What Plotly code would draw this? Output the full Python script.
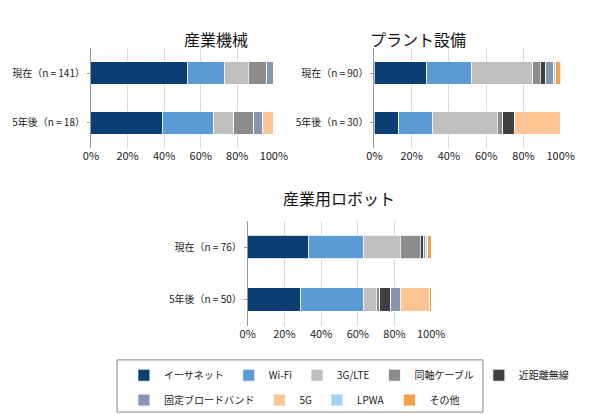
import plotly.graph_objects as go

series = ['イーサネット', 'Wi-Fi', '3G/LTE', '同軸ケーブル', '近距離無線',
          '固定ブロードバンド', '5G', 'LPWA', 'その他']
colors = ['#0b3f73', '#5b9bd5', '#bfbfbf', '#8c8c8c', '#404040',
          '#8496b0', '#fdc593', '#9dd3f5', '#f5a048']

titles = ['産業機械', 'プラント設備', '産業用ロボット']
cats = [['現在（n = 141）', '5年後（n = 18）'],
        ['現在（n = 90）', '5年後（n = 30）'],
        ['現在（n = 76）', '5年後（n = 50）']]

# percent per series, [現在, 5年後]
machine = [[53, 39], [20, 28], [13, 11], [10, 11], [0, 0], [4, 5], [0, 6], [0, 0], [0, 0]]
plant = [[28, 13], [24, 18], [33, 35], [4, 3], [3, 6], [4, 0], [0, 25], [1, 0], [3, 0]]
robot = [[33, 29], [30, 34], [20, 7], [11, 2], [2, 6], [1, 5], [0, 16], [1, 0], [2, 1]]
data = [machine, plant, robot]

xdoms = [(0.132, 0.454), (0.631, 0.959), (0.408, 0.731)]
ydoms = [(0.662, 0.903), (0.662, 0.903), (0.232, 0.486)]
title_y = [0.96, 0.96, 0.54]

fig = go.Figure()
layout = {}
for k in range(3):
  ax = '' if k == 0 else str(k + 1)
  for i, name in enumerate(series):
    fig.add_trace(go.Bar(
      y=cats[k], x=data[k][i], name=name, orientation='h',
      marker=dict(color=colors[i], line=dict(color='white', width=0.8)),
      xaxis='x' + ax, yaxis='y' + ax, showlegend=(k == 0),
      legend='legend' if i < 5 else 'legend2'))
  layout['xaxis' + ax] = dict(domain=xdoms[k], range=[0, 100], dtick=20, ticksuffix='%',
                              showgrid=True, gridcolor='#d9d9d9', zeroline=False,
                              anchor='y' + ax, tickfont=dict(size=11, color='#222'))
  layout['yaxis' + ax] = dict(domain=ydoms[k], autorange='reversed', anchor='x' + ax,
                              showline=True, linecolor='#999', ticks='outside',
                              ticklen=3, tickcolor='#999',
                              tickfont=dict(size=10, color='#222'))
  fig.add_annotation(text=titles[k], x=sum(xdoms[k]) / 2, y=title_y[k],
                     xref='paper', yref='paper', showarrow=False,
                     font=dict(size=16, color='#111'))

# legend frame
fig.add_shape(type='rect', xref='paper', yref='paper',
              x0=0.178, x1=0.822, y0=0.024, y1=0.15,
              line=dict(color='#888', width=1))

leg = dict(orientation='h', xanchor='left', yanchor='top', bgcolor='rgba(0,0,0,0)',
           font=dict(size=10, color='#222'), traceorder='normal', itemwidth=30)

fig.update_layout(
  **layout,
  barmode='stack', bargap=0.55,
  width=590, height=414,
  margin=dict(l=0, r=0, t=0, b=0),
  plot_bgcolor='white', paper_bgcolor='white',
  font=dict(family='Noto Sans CJK JP, sans-serif'),
  legend=dict(leg, x=0.19, y=0.148),
  legend2=dict(leg, x=0.19, y=0.088),
)
fig.write_html('out.html')
